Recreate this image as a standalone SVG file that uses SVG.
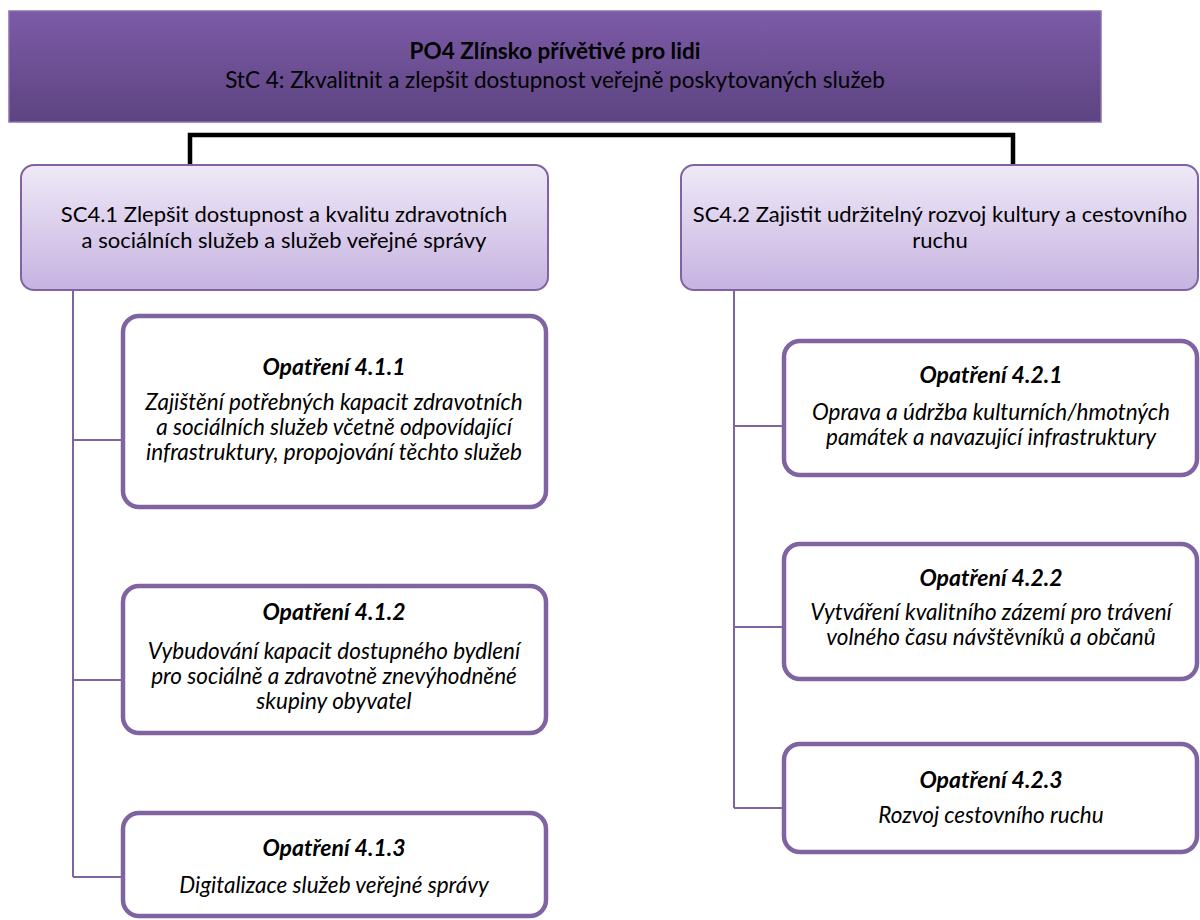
<svg xmlns="http://www.w3.org/2000/svg" width="1200" height="920" viewBox="0 0 1200 920">
<defs>
<linearGradient id="gHead" x1="0" y1="0" x2="0" y2="1">
<stop offset="0" stop-color="#7c5ba7"/>
<stop offset="1" stop-color="#5d4481"/>
</linearGradient>
<linearGradient id="gSC" x1="0" y1="0" x2="0" y2="1">
<stop offset="0" stop-color="#efe9f7"/>
<stop offset="1" stop-color="#c6b3e1"/>
</linearGradient>
<style>
text{font-family:Lato,"Liberation Sans",sans-serif;font-size:22px;fill:#000;text-anchor:middle}
.h{font-size:22.5px}
.b{font-weight:bold}
.i{font-style:italic;font-size:22.5px}
.bi{font-weight:bold;font-style:italic;font-size:23px}
.sc{fill:url(#gSC);stroke:#8064a2;stroke-width:2}
.op{fill:#fff;stroke:#8064a2;stroke-width:4.5}
.conn{fill:none;stroke:#8064a2;stroke-width:2}
.bracket{fill:none;stroke:#000;stroke-width:4.5}
</style>
</defs>
<rect width="1200" height="920" fill="#fff"/>
<g id="connectors">
<path class="bracket" d="M190,168 V135 H1013 V168"/>
<path class="conn" d="M73,290 V877 M73,440 H122 M73,680 H122 M73,877 H122"/>
<path class="conn" d="M734,290 V808 M734,426 H783 M734,627 H783 M734,808 H783"/>
</g>
<g id="header">
<rect x="9" y="11" width="1092" height="111" fill="url(#gHead)" stroke="#8a70b0" stroke-width="1.5"/>
<text x="555" y="59" class="h b">PO4 Zlínsko přívětivé pro lidi</text>
<text x="555" y="88" class="h">StC 4: Zkvalitnit a zlepšit dostupnost veřejně poskytovaných služeb</text>
</g>
<g id="sc41">
<rect class="sc" x="21" y="165" width="527" height="125" rx="13"/>
<text x="284" y="222">SC4.1 Zlepšit dostupnost a kvalitu zdravotních</text>
<text x="284" y="248">a sociálních služeb a služeb veřejné správy</text>
</g>
<g id="sc42">
<rect class="sc" x="681" y="165" width="517" height="125" rx="13"/>
<text x="940" y="222">SC4.2 Zajistit udržitelný rozvoj kultury a cestovního</text>
<text x="940" y="248">ruchu</text>
</g>
<g id="op411">
<rect class="op" x="123" y="316" width="423" height="191" rx="16"/>
<text x="334" y="375" class="bi">Opatření 4.1.1</text>
<text x="334" y="410" class="i">Zajištění potřebných kapacit zdravotních</text>
<text x="334" y="435" class="i">a sociálních služeb včetně odpovídající</text>
<text x="334" y="460" class="i">infrastruktury, propojování těchto služeb</text>
</g>
<g id="op412">
<rect class="op" x="123" y="586" width="423" height="147" rx="16"/>
<text x="334" y="620" class="bi">Opatření 4.1.2</text>
<text x="334" y="659" class="i">Vybudování kapacit dostupného bydlení</text>
<text x="334" y="684" class="i">pro sociálně a zdravotně znevýhodněné</text>
<text x="334" y="709" class="i">skupiny obyvatel</text>
</g>
<g id="op413">
<rect class="op" x="123" y="813" width="423" height="103" rx="16"/>
<text x="334" y="856" class="bi">Opatření 4.1.3</text>
<text x="334" y="893" class="i">Digitalizace služeb veřejné správy</text>
</g>
<g id="op421">
<rect class="op" x="784" y="341" width="413" height="134" rx="16"/>
<text x="991" y="383" class="bi">Opatření 4.2.1</text>
<text x="991" y="420" class="i">Oprava a údržba kulturních/hmotných</text>
<text x="991" y="445" class="i">památek a navazující infrastruktury</text>
</g>
<g id="op422">
<rect class="op" x="784" y="544" width="413" height="135" rx="16"/>
<text x="991" y="586" class="bi">Opatření 4.2.2</text>
<text x="991" y="620" class="i">Vytváření kvalitního zázemí pro trávení</text>
<text x="991" y="645" class="i">volného času návštěvníků a občanů</text>
</g>
<g id="op423">
<rect class="op" x="784" y="744" width="413" height="108" rx="16"/>
<text x="991" y="788" class="bi">Opatření 4.2.3</text>
<text x="991" y="823" class="i">Rozvoj cestovního ruchu</text>
</g>
</svg>
